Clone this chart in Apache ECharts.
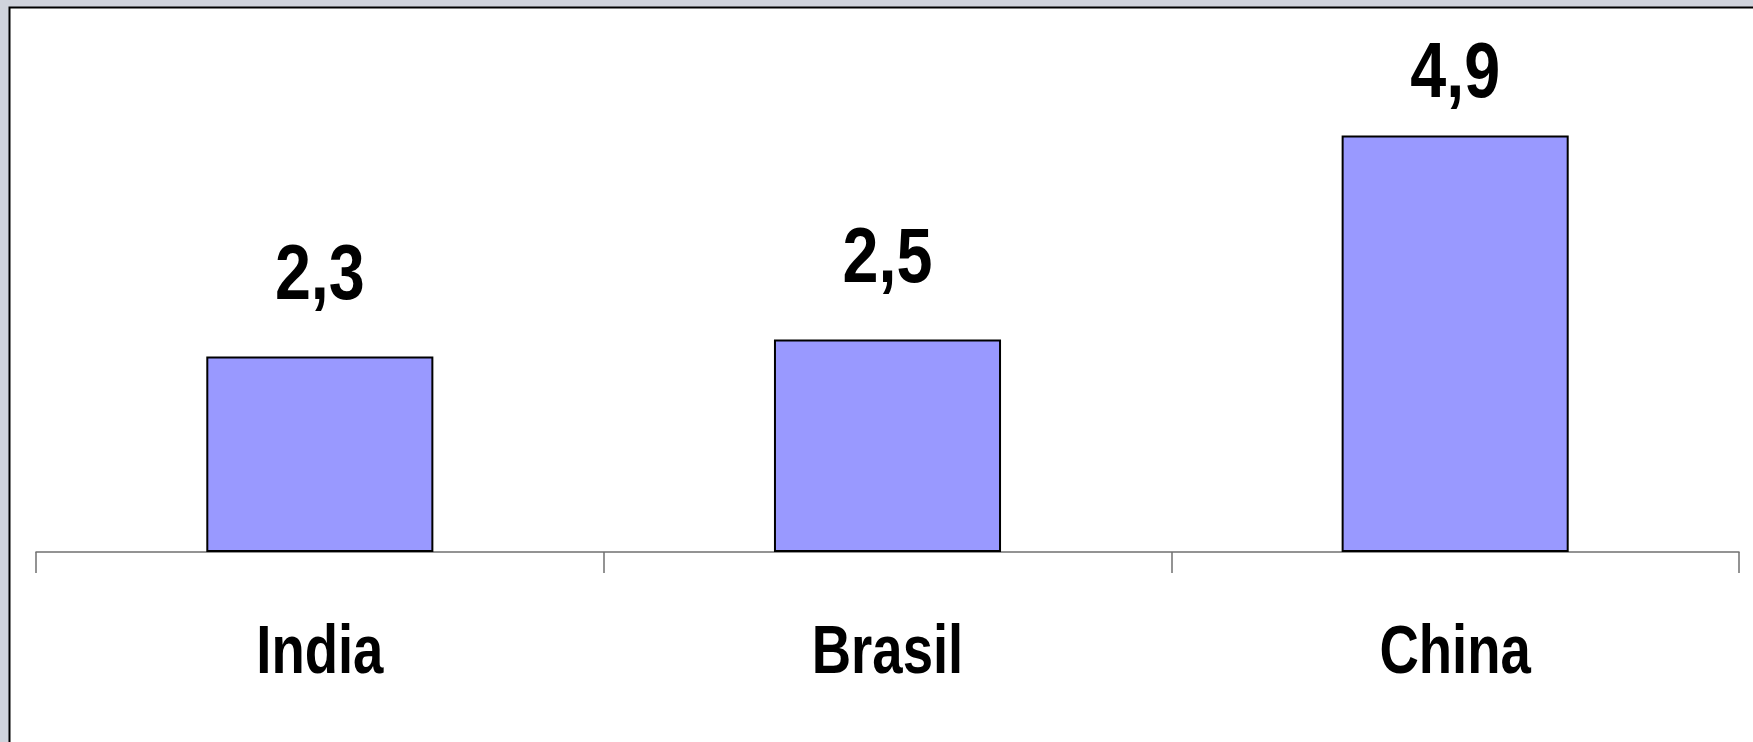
<!DOCTYPE html>
<html>
<head>
<meta charset="utf-8">
<script src="https://cdn.jsdelivr.net/npm/echarts@6/dist/echarts.min.js"></script>
<style>
  html, body { margin: 0; padding: 0; background: #D0D3DC; }
  #chart { width: 1753px; height: 742px; }
</style>
</head>
<body>
<div id="chart"></div>
<script>
// Values per country
const categories = ['India', 'Brasil', 'China'];
const values = [2.3, 2.5, 4.9];

const FONT = '"Liberation Sans", Arial, sans-serif';
// Condensed look for the bold labels (horizontal squeeze)
const CAT_FONT_SIZE = 69;
const CAT_SQUEEZE = 0.79;
const VAL_FONT_SIZE = 77;
const VAL_SQUEEZE = 0.84;
// Canvas "middle" baseline sits ~0.3465em above the alphabetic baseline
const MID = 0.3465;

const fmt = v => String(v).replace('.', ',');

const chart = echarts.init(document.getElementById('chart'), null, { renderer: 'canvas' });

const panel = {
  type: 'rect',
  z: -10,
  silent: true,
  shape: { x: 9.5, y: 7.5, width: 1800, height: 800 },
  style: { fill: '#FFFFFF', stroke: '#000000', lineWidth: 2 }
};

chart.setOption({
  backgroundColor: '#D0D3DC',
  animation: false,
  graphic: [panel],
  grid: { left: 36, right: 14, top: 127, bottom: 190, containLabel: false },
  xAxis: {
    type: 'category',
    data: categories,
    axisLine: { show: true, lineStyle: { color: '#707070', width: 1.5 } },
    axisTick: { show: true, length: 21, alignWithLabel: false, lineStyle: { color: '#707070', width: 1.5 } },
    axisLabel: { show: false }
  },
  yAxis: {
    type: 'value',
    min: 0,
    max: 5,
    show: false,
    splitLine: { show: false }
  },
  series: [{
    type: 'bar',
    data: values,
    barWidth: '40%',
    itemStyle: { color: '#9999FF', borderColor: '#000000', borderWidth: 2 },
    label: { show: false }
  }]
});

// Labels: positioned from the chart's own scales, drawn as condensed bold text
function makeText(cx, baseline, text, size, squeeze) {
  return {
    type: 'text',
    silent: true,
    x: cx,
    y: baseline - MID * size,
    scaleX: squeeze,
    style: {
      text: text,
      x: 0,
      y: 0,
      fill: '#000000',
      font: 'bold ' + size + 'px ' + FONT,
      align: 'center',
      verticalAlign: 'middle'
    }
  };
}

const labels = [];
const axisY = chart.convertToPixel({ yAxisIndex: 0 }, 0);
categories.forEach((cat, i) => {
  const cx = chart.convertToPixel({ xAxisIndex: 0 }, cat);
  // category name under the axis
  labels.push(makeText(cx, axisY + 126, cat, CAT_FONT_SIZE, CAT_SQUEEZE));
  // value above its bar, kept inside the plot frame
  const top = chart.convertToPixel({ yAxisIndex: 0 }, values[i]);
  const baseline = Math.max(top - 52, 102);
  labels.push(makeText(cx, baseline, fmt(values[i]), VAL_FONT_SIZE, VAL_SQUEEZE));
});

chart.setOption({ graphic: [panel].concat(labels) }, { replaceMerge: ['graphic'] });
</script>
</body>
</html>
